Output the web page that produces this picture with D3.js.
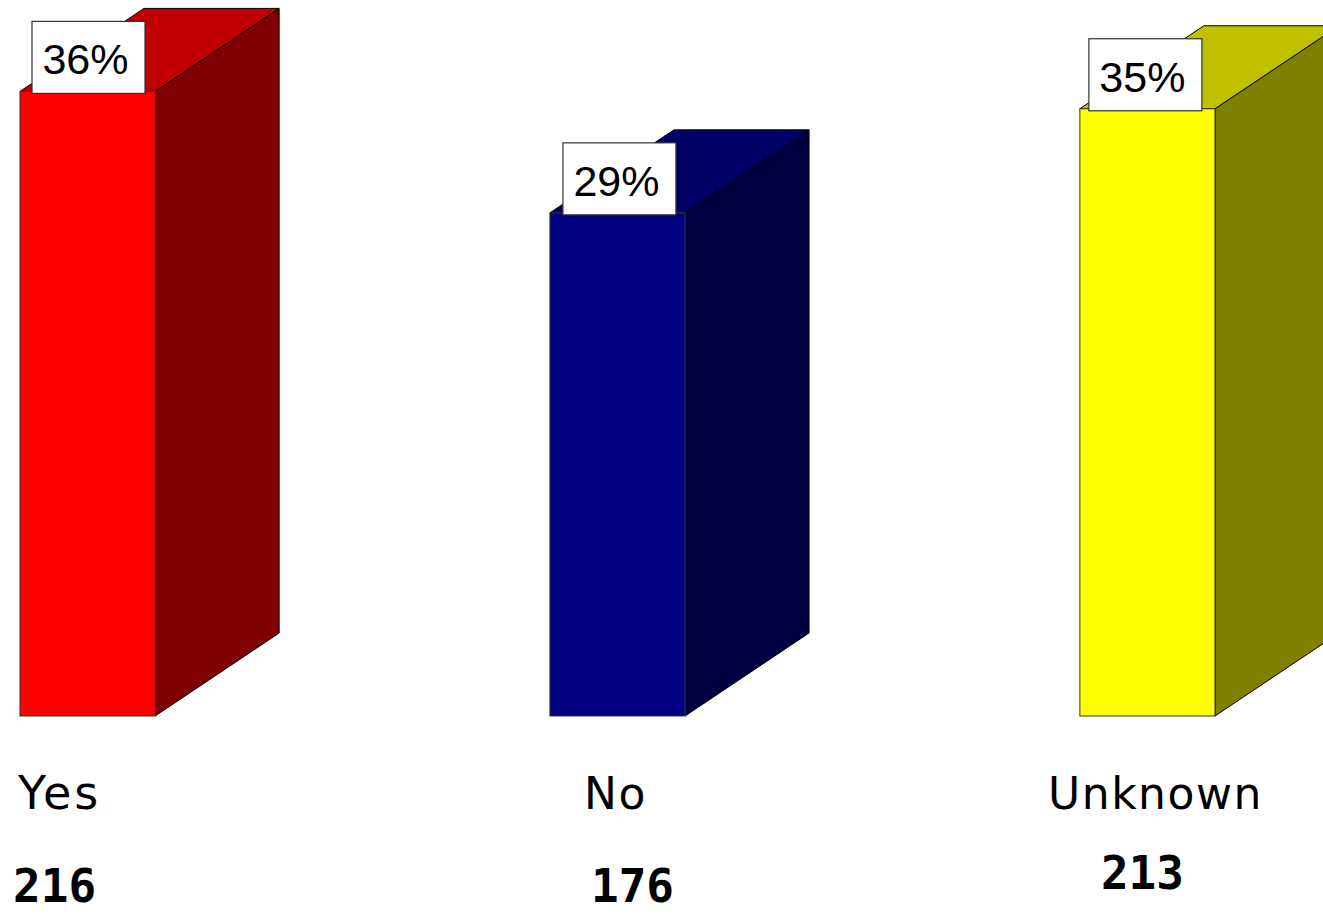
<!DOCTYPE html>
<html>
<head>
<meta charset="utf-8">
<script src="https://cdn.jsdelivr.net/npm/d3@7"></script>
<style>
  html, body { margin: 0; padding: 0; background: #fff; overflow: hidden; }
  svg { display: block; }
</style>
</head>
<body>
<svg id="chart" width="1323" height="914"></svg>
<script>
// ---- data ----
const categories = ["Yes", "No", "Unknown"];
const percents = [36, 29, 35];
const counts = [216, 176, 213];
const percentLabels = ["36%", "29%", "35%"];
const frontColors = ["#ff0000", "#000080", "#ffff00"];
const topColors = ["#c00000", "#000066", "#c0c000"];
const sideColors = ["#800000", "#000040", "#808000"];

// ---- layout ----
const W = 1323, H = 914;
const baseY = 716;
const depthX = 124, depthY = -83;
const catLabelDx = [-28, -2, 8];
const catLetterSpacing = [3, 1.5, 1.5];
const catFontSize = [46, 44, 44];
const countDx = [-33, 15, -5];
const countBaseline = [902, 902, 889];
const boxDx = [12, 13, 9];

const svg = d3.select("#chart");

const x = d3.scaleBand()
  .domain(categories)
  .range([20, 1215])
  .paddingInner(0.745)
  .paddingOuter(0);

const y = d3.scaleLinear()
  .domain([0, 40])
  .range([baseY, baseY - 694]);

const bw = x.bandwidth();

const data = categories.map((c, i) => ({
  cat: c, pct: percents[i], count: counts[i], label: percentLabels[i],
  front: frontColors[i], top: topColors[i], side: sideColors[i], i
}));

const g = svg.append("g");

const bars = g.selectAll("g.bar").data(data).enter().append("g").attr("class", "bar");

// side face
bars.append("path")
  .attr("d", d => {
    const x1 = x(d.cat) + bw, yt = y(d.pct);
    return `M${x1},${yt} L${x1 + depthX},${yt + depthY} L${x1 + depthX},${baseY + depthY} L${x1},${baseY} Z`;
  })
  .attr("fill", d => d.side)
  .attr("stroke", "#000")
  .attr("stroke-width", 1);

// top face
bars.append("path")
  .attr("d", d => {
    const x0 = x(d.cat), x1 = x0 + bw, yt = y(d.pct);
    return `M${x0},${yt} L${x0 + depthX},${yt + depthY} L${x1 + depthX},${yt + depthY} L${x1},${yt} Z`;
  })
  .attr("fill", d => d.top)
  .attr("stroke", "#000")
  .attr("stroke-width", 1);

// front face
bars.append("rect")
  .attr("x", d => x(d.cat))
  .attr("y", d => y(d.pct))
  .attr("width", bw)
  .attr("height", d => baseY - y(d.pct))
  .attr("fill", d => d.front)
  .attr("stroke", "#333")
  .attr("stroke-width", 1);

// percent label boxes
const boxW = 113, boxH = 72;
bars.append("rect")
  .attr("x", d => x(d.cat) + boxDx[d.i])
  .attr("y", d => y(d.pct) - boxH + 2)
  .attr("width", boxW)
  .attr("height", boxH)
  .attr("fill", "#fff")
  .attr("stroke", "#333")
  .attr("stroke-width", 1.2);

bars.append("text")
  .attr("x", d => x(d.cat) + boxDx[d.i] + boxW / 2 - 3)
  .attr("y", d => y(d.pct) - boxH + 2 + 53)
  .attr("text-anchor", "middle")
  .attr("font-family", "'Liberation Sans', Arial, sans-serif")
  .attr("font-size", 43)
  .attr("fill", "#000")
  .text(d => d.label);

// category labels
g.selectAll("text.cat").data(data).enter().append("text")
  .attr("class", "cat")
  .attr("x", d => x(d.cat) + bw / 2 + catLabelDx[d.i])
  .attr("y", 809)
  .attr("text-anchor", "middle")
  .attr("font-family", "'DejaVu Sans', sans-serif")
  .attr("font-size", d => catFontSize[d.i])
  .attr("letter-spacing", d => catLetterSpacing[d.i])
  .attr("fill", "#000")
  .text(d => d.cat);

// counts
g.selectAll("text.count").data(data).enter().append("text")
  .attr("class", "count")
  .attr("x", d => x(d.cat) + bw / 2 + countDx[d.i])
  .attr("y", d => countBaseline[d.i])
  .attr("text-anchor", "middle")
  .attr("font-family", "'DejaVu Sans Mono', monospace")
  .attr("font-weight", "bold")
  .attr("font-size", 46)
  .attr("fill", "#000")
  .text(d => d.count);
</script>
</body>
</html>
